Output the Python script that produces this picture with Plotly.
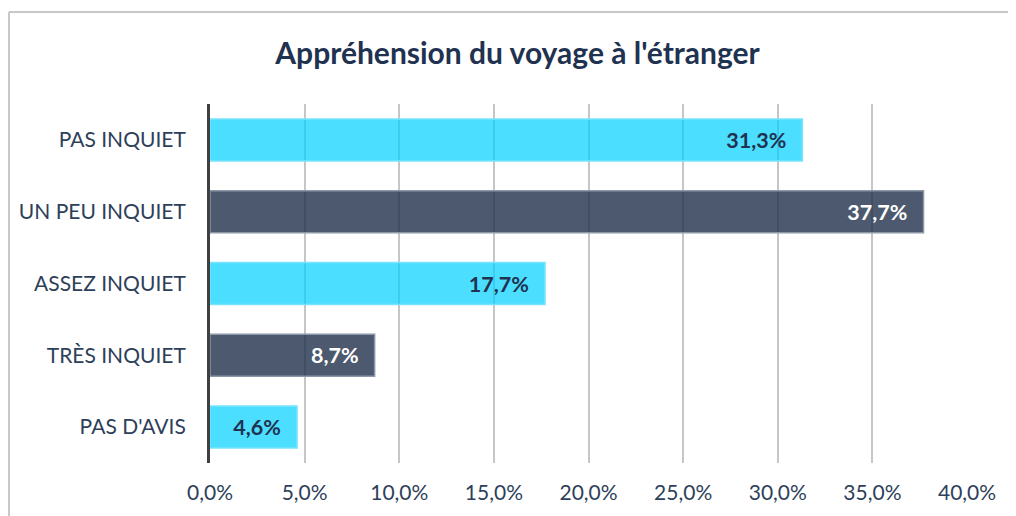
import plotly.graph_objects as go

categories = ["PAS INQUIET", "UN PEU INQUIET", "ASSEZ INQUIET", "TRÈS INQUIET", "PAS D'AVIS"]
values = [31.3, 37.7, 17.7, 8.7, 4.6]
tick_values = [0, 5, 10, 15, 20, 25, 30, 35, 40]
tick_labels = ["0,0%", "5,0%", "10,0%", "15,0%", "20,0%", "25,0%", "30,0%", "35,0%", "40,0%"]
title = "Appréhension du voyage à l'étranger"

CYAN = "rgba(0,208,255,0.70)"
CYAN_LINE = "rgba(120,228,255,1)"
DARK = "rgba(31,48,74,0.80)"
DARK_LINE = "rgba(140,152,168,1)"
NAVY = "#1F3250"
TEXT = "#2E3F5A"

fill = [CYAN if i % 2 == 0 else DARK for i in range(len(values))]
line = [CYAN_LINE if i % 2 == 0 else DARK_LINE for i in range(len(values))]
txtcol = [NAVY if i % 2 == 0 else "white" for i in range(len(values))]
labels = [f"{v:.1f}%".replace(".", ",") + "\u00a0\u00a0\u2009" for v in values]

FONT = "Lato, 'Open Sans', sans-serif"

W, H = 1008, 508
L, R, T, B = 202, 48, 96, 53
PW, PH = W - L - R, H - T - B

fig = go.Figure(go.Bar(
    x=values, y=categories, orientation="h",
    marker=dict(color=fill, line=dict(color=line, width=1.5)),
    width=0.585,
    text=labels, textposition="inside", insidetextanchor="end",
    textfont=dict(family=FONT, size=21.5, color=txtcol, weight="bold"),
    cliponaxis=False,
    hoverinfo="skip",
))

border_x = (1 - L) / PW
border_y = (PH + T - 4) / PH

fig.update_layout(
    width=W, height=H,
    margin=dict(l=L, r=R, t=T, b=B, autoexpand=False),
    paper_bgcolor="white", plot_bgcolor="white",
    title=dict(text=title, x=0.5055, xref="container", xanchor="center", y=0.9114, yanchor="middle",
               font=dict(family=FONT, size=30, color=NAVY, weight="bold")),
    showlegend=False,
    bargap=0.4,
    shapes=[
        dict(type="line", xref="paper", yref="paper", x0=border_x, x1=border_x,
             y0=border_y, y1=-0.3, line=dict(color="#c8c8c8", width=2)),
        dict(type="line", xref="paper", yref="paper", x0=border_x, x1=1.2,
             y0=border_y, y1=border_y, line=dict(color="#c8c8c8", width=2)),
    ],
)
fig.update_xaxes(
    range=[0, 40.05], tickvals=tick_values, ticktext=tick_labels,
    showgrid=True, gridcolor="#c6c6c6", gridwidth=1.5, zeroline=False,
    showline=False, ticks="outside", ticklen=11, tickcolor="rgba(0,0,0,0)",
    tickfont=dict(family=FONT, size=21, color=TEXT), fixedrange=True,
    automargin=False,
)
fig.update_yaxes(
    autorange="reversed", showgrid=False, zeroline=False,
    showline=True, linecolor="#404040", linewidth=3,
    ticks="outside", ticklen=17, tickcolor="rgba(0,0,0,0)",
    tickfont=dict(family=FONT, size=21, color=TEXT), fixedrange=True,
    automargin=False,
)

fig.write_html("out.html")
